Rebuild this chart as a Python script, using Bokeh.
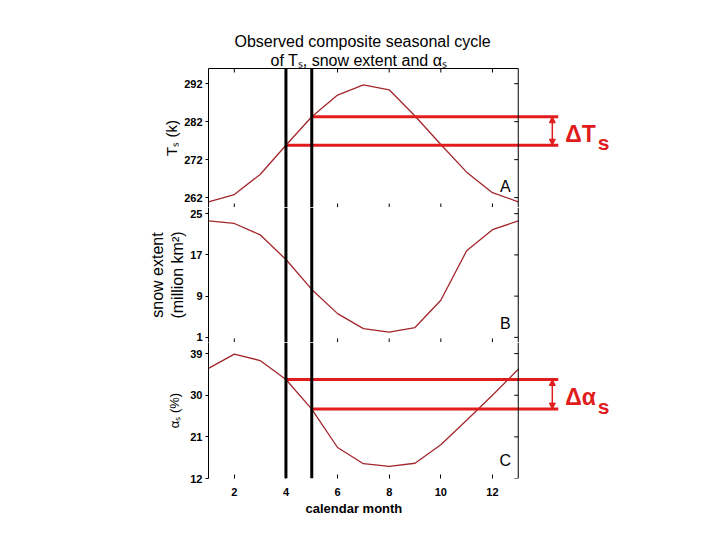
from math import pi
from bokeh.plotting import figure
from bokeh.models import (Range1d, LinearAxis, FixedTicker, Span, Label, Arrow,
                          NormalHead, Title)
from bokeh.layouts import column
from bokeh.embed import file_html
from bokeh.resources import INLINE

# ---------------- data ----------------
months = list(range(1, 14))
ts_k = [260.9, 262.8, 268.1, 275.8, 283.3, 289.0, 291.7, 290.4, 283.5, 276.0, 268.7, 263.3, 260.9]
snow_extent = [23.6, 23.1, 20.9, 16.1, 10.3, 5.6, 2.7, 2.0, 2.9, 8.2, 17.8, 21.9, 23.6]
albedo_pct = [35.8, 38.9, 37.5, 33.4, 27.0, 18.7, 15.2, 14.6, 15.3, 19.3, 24.6, 30.0, 35.6]

month_ticks = [2, 4, 6, 8, 10, 12]
ts_ticks = [262, 272, 282, 292]
snow_ticks = [1, 9, 17, 25]
albedo_ticks = [12, 21, 30, 39]
marked_months = [4, 5]

# ---------------- style ----------------
FONT = "Liberation Sans"
DATA_RED = "#a3262b"
ANN_RED = "#e01c1c"
X0, X1 = months[0], months[-1]      # visible box (months 1..13)
X_END = 17.0                          # frame extends right for the annotations
PX_PER_MONTH = 310 / 12
FRAME_W = round((X_END - X0) * PX_PER_MONTH)


def edge_axis():
    """Axis line only (no ticks, no labels) limited to the month box."""
    return LinearAxis(ticker=FixedTicker(ticks=[]), bounds=(X0, X1),
                      major_tick_in=0, major_tick_out=0,
                      minor_tick_line_color=None, axis_line_color="black",
                      major_label_standoff=0, axis_label_standoff=0)


def make_panel(y, yr, yticks, ylabel, letter, letter_y, frame_h, label_size, label_standoff):
    p = figure(frame_width=FRAME_W, frame_height=frame_h, title=None,
               x_range=Range1d(X0, X_END), y_range=Range1d(*yr),
               output_backend="svg", toolbar_location=None,
               x_axis_location=None, y_axis_location=None,
               min_border_left=208, min_border_right=6,
               min_border_top=0, min_border_bottom=0,
               outline_line_color=None)
    p.xgrid.visible = False
    p.ygrid.visible = False
    left = LinearAxis(ticker=FixedTicker(ticks=yticks), axis_label=ylabel,
                      major_tick_in=0, major_tick_out=3,
                      major_tick_line_color="black", axis_line_color="black",
                      minor_tick_line_color=None,
                      major_label_text_font=FONT,
                      major_label_text_font_style="bold",
                      major_label_text_font_size="11px",
                      major_label_text_color="black",
                      major_label_standoff=3,
                      axis_label_text_font=FONT,
                      axis_label_text_font_style="normal",
                      axis_label_text_font_size=label_size,
                      axis_label_text_color="black",
                      axis_label_standoff=label_standoff)
    p.add_layout(left, "left")
    # right edge of the month box and its inward ticks
    p.add_layout(Span(location=X1, dimension="height", line_color="black", line_width=1))
    p.ray(x=[X1] * len(yticks), y=yticks, length=4, angle=pi,
          length_units="screen", line_color="black", line_width=1)
    p.line(months, y, line_color=DATA_RED, line_width=1.3)
    for m in marked_months:
        p.add_layout(Span(location=m, dimension="height",
                          line_color="black", line_width=3))
    p.add_layout(Label(x=12.5, y=letter_y, text=letter, text_align="center",
                       text_baseline="middle", text_font=FONT,
                       text_font_size="16px", text_color="black"))
    return p


def top_ticks(p, ytop):
    p.ray(x=month_ticks, y=[ytop] * len(month_ticks), length=4, angle=-pi / 2,
          length_units="screen", line_color="black", line_width=1)


def bottom_ticks(p, ybot):
    p.ray(x=month_ticks, y=[ybot] * len(month_ticks), length=4, angle=pi / 2,
          length_units="screen", line_color="black", line_width=1)


def add_delta(p, y, first_sym, sym_off, s_off):
    m_a, m_b = marked_months
    ya = y[months.index(m_a)]
    yb = y[months.index(m_b)]
    p.segment(x0=[m_a, m_b], y0=[ya, yb], x1=[14.55, 14.55], y1=[ya, yb],
              line_color=ANN_RED, line_width=3)
    lo, hi = min(ya, yb), max(ya, yb)
    p.add_layout(Arrow(start=NormalHead(size=6, fill_color=ANN_RED, line_color=ANN_RED),
                       end=NormalHead(size=6, fill_color=ANN_RED, line_color=ANN_RED),
                       x_start=14.32, y_start=lo, x_end=14.32, y_end=hi,
                       line_color=ANN_RED, line_width=1.5))
    mid = (lo + hi) / 2
    p.add_layout(Label(x=14.82, y=mid, text=first_sym, text_color=ANN_RED,
                       text_font=FONT, text_font_style="bold",
                       text_font_size="23px", text_baseline="middle",
                       y_offset=sym_off))
    p.add_layout(Label(x=16.08, y=mid, text="s", text_color=ANN_RED,
                       text_font=FONT, text_font_style="bold",
                       text_font_size="21px", text_baseline="middle",
                       y_offset=s_off))


# ---------------- panel A ----------------
ts_range = (259.4, 296.0)
pa = make_panel(ts_k, ts_range, ts_ticks, "Tₛ (k)", "A", 264.9, 139, "15px", 1)
pa.min_border_top = 68
pa.add_layout(edge_axis(), "above")
pa.add_layout(edge_axis(), "below")
top_ticks(pa, ts_range[1])
bottom_ticks(pa, ts_range[0])
pa.add_layout(Title(text="of Tₛ, snow extent and αₛ", align="left", offset=62,
                    text_font=FONT, text_font_size="16px",
                    text_font_style="normal", text_color="black", standoff=0), "above")
pa.add_layout(Title(text="Observed composite seasonal cycle", align="left", offset=26,
                    text_font=FONT, text_font_size="16px",
                    text_font_style="normal", text_color="black", standoff=0), "above")
add_delta(pa, ts_k, "ΔT", -3, -12)

# ---------------- panel B ----------------
snow_range = (0.0, 26.2)
pb = make_panel(snow_extent, snow_range, snow_ticks, "snow extent\n(million km²)",
                "B", 3.7, 135, "16px", 1)
pb.add_layout(edge_axis(), "below")
bottom_ticks(pb, snow_range[0])

# ---------------- panel C ----------------
alb_range = (12.0, 41.4)
pc = make_panel(albedo_pct, alb_range, albedo_ticks, "αₛ (%)", "C", 15.9, 136, "13px", 5)
cx = LinearAxis(ticker=FixedTicker(ticks=month_ticks), bounds=(X0, X1),
                major_tick_in=4, major_tick_out=0, major_tick_line_color="black",
                minor_tick_line_color=None, axis_line_color=None,
                major_label_text_font=FONT, major_label_text_font_style="bold",
                major_label_text_font_size="11px", major_label_text_color="black",
                major_label_standoff=9)
pc.add_layout(cx, "below")
pc.add_layout(Title(text="calendar month", align="left", offset=97,
                    text_font=FONT, text_font_size="13px",
                    text_font_style="bold", text_color="black", standoff=0), "below")
add_delta(pc, albedo_pct, "Δα", -3, -12)

layout = column(pa, pb, pc, spacing=0)
open("out.html", "w").write(file_html(layout, INLINE))
